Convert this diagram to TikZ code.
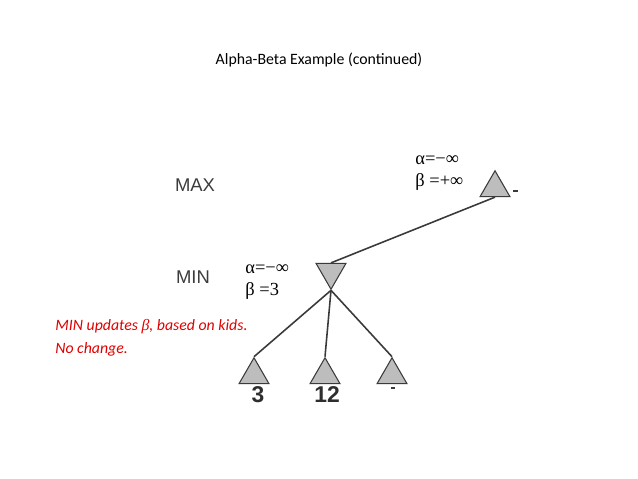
\documentclass[tikz,border=0pt]{standalone}
\usepackage{fontspec}
\setmainfont{Carlito}
\newfontfamily\arialf{Liberation Sans}
\newfontfamily\timesf{Liberation Serif}
\usepackage{tikz}
\usetikzlibrary{shapes.geometric}
\definecolor{tri}{HTML}{BDBDBD}
\definecolor{edge}{HTML}{3A3A3A}
\definecolor{lvl}{HTML}{3C3C3C}
\definecolor{note}{HTML}{E00000}
\tikzset{ply/.style={regular polygon,regular polygon sides=3,minimum size=0.69cm,inner sep=0pt,draw=edge,fill=tri,line width=0.6pt},
  minply/.style={ply,shape border rotate=180},
  link/.style={edge,line width=0.9pt},
  ab/.style={font=\timesf\fontsize{10.5}{12.5}\selectfont,align=left,anchor=west,inner sep=0pt},
  lvltext/.style={lvl,font=\arialf\fontsize{10.5}{12}\selectfont},
  leaf/.style={edge!80!black,font=\arialf\bfseries\fontsize{13}{14}\selectfont}}

\begin{document}
\begin{tikzpicture}[x=0.02cm,y=-0.02cm]
  \useasboundingbox(0,0)rectangle(638,478);
  \node[font=\fontsize{9}{11}\selectfont](title)at(319,60){Alpha-Beta Example (continued)};
  \node[lvltext](max)at(195,185){MAX};\node[lvltext](min)at(193,277){MIN};
  % game tree
  \node[ply](root)at(495,188){};\node[minply](kid)at(331,272){};
  \node[ply](l1)at(254,375){};\node[ply](l2)at(325,375){};\node[ply](l3)at(392,375){};
  \draw[link](root.south)--(kid.north);
  \foreach \n in {l1,l2,l3}\draw[link](kid.south)--(\n.north);
  \node[leaf](v1)at(258,395){3};\node[leaf](v2)at(327,395){12};
  \draw[edge,line width=0.6pt](513,191)--(518,191);\draw[edge,line width=0.8pt](391,388)--(395,388);
  % bounds
  \node[ab](rootab)at(415,173){α=−∞\\β =+∞};
  \node[ab](kidab)at(245,282){α=−∞\\β =3};
  \node[note,font=\itshape\fontsize{9}{13}\selectfont,align=left,anchor=west,inner sep=0pt](msg)at(55,338)
    {MIN updates {\timesf\itshape β}, based on kids.\\No change.};
\end{tikzpicture}
\end{document}
